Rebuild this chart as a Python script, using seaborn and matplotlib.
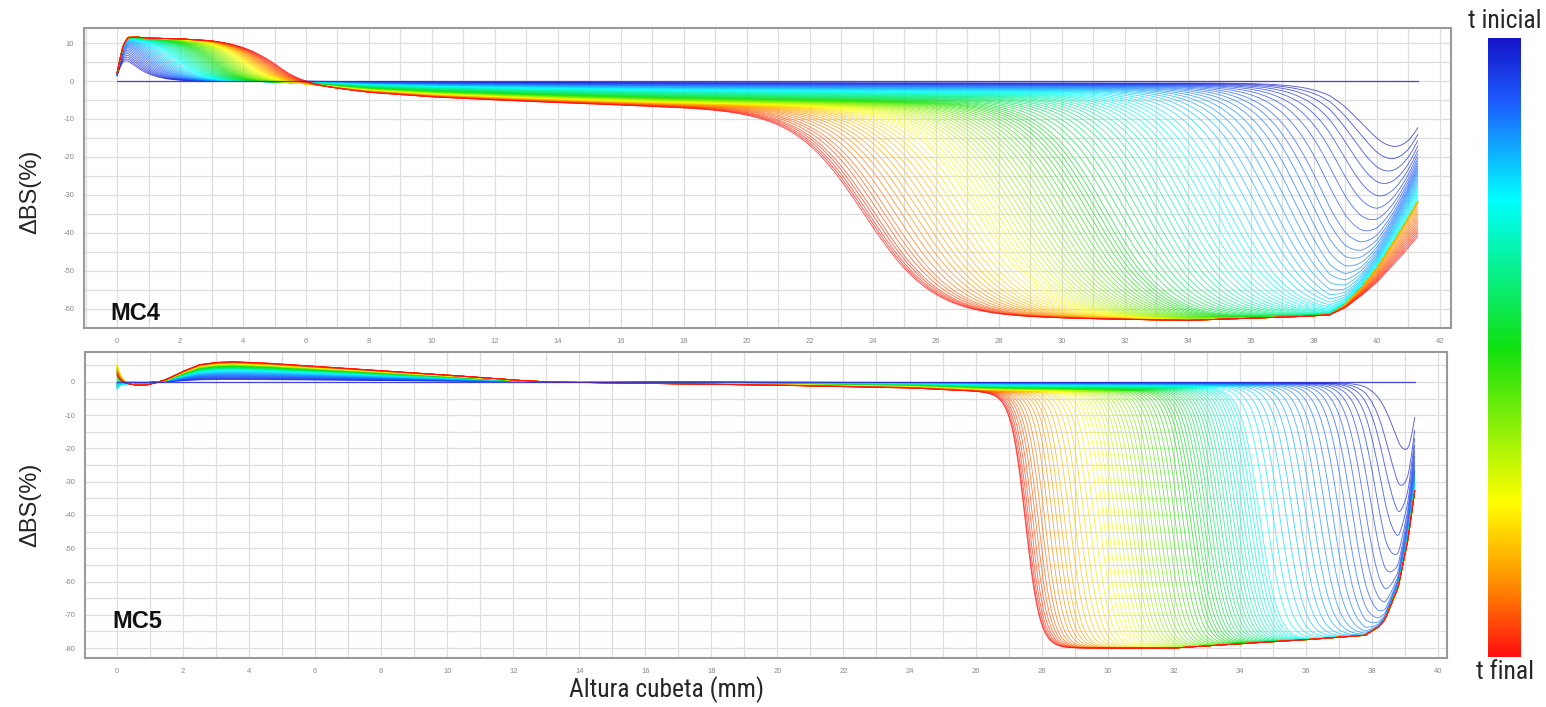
import numpy as np
import pandas as pd
import matplotlib
matplotlib.use("Agg")
import matplotlib.pyplot as plt
import seaborn as sns
from matplotlib.colors import LinearSegmentedColormap
from matplotlib.ticker import MultipleLocator, FuncFormatter
from matplotlib import font_manager

# ------------------------------------------------------------------ data
# colour scale: t inicial (0) -> t final (1)
cbar_pos = [0.0, 0.10, 0.26, 0.50, 0.75, 0.87, 1.0]
cbar_col = ["#1414c8", "#1e5aff", "#00ffff", "#10e010", "#ffff00", "#ff9a00", "#ff1010"]

# time keyframes used by the per-curve parameters below
key_t = [0.0, 0.10, 0.26, 0.50, 0.75, 1.0]

# ---- MC4: clarification-front position (mm) of each scan, t inicial -> t final
mc4_fronts = [40.8, 40.5, 40.2, 39.9, 39.6, 39.3, 39.0, 38.7, 38.4,
              38.15, 37.9, 37.65, 37.4, 37.15, 36.9, 36.65, 36.4, 36.15, 35.9, 35.65, 35.4, 35.2, 35.0,
              34.8, 34.6, 34.4, 34.2, 34.0, 33.8, 33.6, 33.4, 33.2, 33.0, 32.8, 32.6, 32.4, 32.2, 32.0,
              31.8, 31.6, 31.4, 31.25, 31.1, 30.95,
              30.8, 30.64, 30.48, 30.32, 30.16, 30.0, 29.84, 29.68, 29.52, 29.36, 29.2, 29.04, 28.88,
              28.72, 28.56, 28.4, 28.24, 28.08, 27.92, 27.76, 27.6, 27.45,
              27.3, 27.1, 26.9, 26.7, 26.5, 26.3, 26.1, 25.9, 25.7, 25.5, 25.3, 25.1, 24.9, 24.7, 24.5,
              24.35, 24.2, 24.05, 23.95, 23.85, 23.77, 23.7]
mc4_width = [0.8, 0.85, 0.95, 1.0, 1.05, 1.1]          # front width (mm)
mc4_edge = [0.2, 0.9, 1.9, 3.0, 4.1, 5.05]              # sediment-peak edge (mm)
mc4_basescale = [0.05, 0.15, 0.35, 0.66, 0.85, 1.0]
mc4_end_t = [0.0, 0.15, 0.30, 0.85, 1.0]
mc4_endfrac = [0.30, 0.40, 0.52, 0.52, 0.67]
# final-scan profiles
mc4_peak_x = [0, 0.1, 0.2, 0.35, 0.6, 1.0, 2.0, 3.0, 3.5, 4.0, 4.5, 6.0, 8.0]
mc4_peak_y = [2.0, 6.0, 9.5, 11.5, 11.6, 11.4, 11.3, 11.0, 10.6, 10.1, 9.7, 9.5, 9.5]
mc4_base_x = [0, 5, 6, 8, 10, 12, 14, 17, 20, 25, 41.3]
mc4_base_y = [0, -0.5, -1.0, -3.0, -4.2, -5.0, -5.7, -6.6, -7.2, -8.0, -9.0]
mc4_floor_x = [20, 25, 30, 34, 37.5, 38.6, 39.5, 41.3]
mc4_floor_y = [-61, -62, -62.5, -63, -62, -61.5, -61, -61]
mc4_rise_x = [38.5, 39.0, 39.5, 40.0, 40.5, 41.0, 41.3]
mc4_rise_y = [0, 0.08, 0.22, 0.40, 0.62, 0.85, 1.0]
mc4_len = 41.3

# ---- MC5
mc5_fronts = [39.1, 38.8, 38.6, 38.4, 38.2, 38.0, 37.8, 37.6, 37.4, 37.2, 37.0, 36.8, 36.6, 36.4,
              36.2, 36.0, 35.8, 35.6, 35.4, 35.2, 35.0, 34.8, 34.6,
              34.5, 34.4, 34.3, 34.2, 34.1, 34.0, 33.9, 33.8, 33.7, 33.6, 33.5, 33.4, 33.3, 33.2, 33.1,
              33.0, 32.9, 32.8, 32.7, 32.6, 32.5,
              32.4, 32.28, 32.16, 32.04, 31.92, 31.8, 31.68, 31.56, 31.44, 31.32, 31.2, 31.08, 30.96,
              30.84, 30.72, 30.6, 30.48, 30.36, 30.24, 30.12, 30.0, 29.88,
              29.75, 29.6, 29.45, 29.3, 29.15, 29.0, 28.85, 28.7, 28.58, 28.46, 28.34, 28.22, 28.1,
              28.0, 27.9, 27.82, 27.74, 27.67, 27.61, 27.56, 27.52, 27.5]
mc5_width = [0.32, 0.3, 0.28, 0.26, 0.24, 0.22]
mc5_bumpscale = [0.1, 0.3, 0.6, 0.8, 0.92, 1.0]
mc5_basescale = [0.05, 0.15, 0.35, 0.66, 0.85, 1.0]
mc5_spike_t = [0.0, 0.10, 0.26, 0.50, 0.75, 0.87, 1.0]
mc5_spike = [0.0, -1.0, -2.5, 2.0, 5.0, 3.0, 1.5]
mc5_end_t = [0.0, 0.10, 0.26, 1.0]
mc5_endfrac = [0.2, 0.35, 0.435, 0.435]
mc5_peak_x = [0, 0.15, 0.3, 0.6, 0.9, 1.2, 1.5, 2.0, 2.5, 3.0, 3.5, 4.5, 6.0, 8.0, 10.0, 12.0, 13.0, 40]
mc5_peak_y = [0.5, -0.2, -0.6, -1.0, -0.9, -0.2, 0.8, 3.2, 5.2, 5.9, 6.1, 5.7, 4.7, 3.4, 2.1, 0.6, 0.0, 0.0]
mc5_base_x = [0, 13, 15, 20, 24, 26.5, 30, 39.3]
mc5_base_y = [0, 0, -0.3, -1.0, -1.8, -3.0, -3.5, -4.0]
mc5_floor_x = [26, 28, 32, 34.3, 36, 38, 39.3]
mc5_floor_y = [-79, -80, -80, -78.5, -77.5, -76, -75]
mc5_rise_x = [37.8, 38.2, 38.4, 38.8, 39.1, 39.3]
mc5_rise_y = [0, 0.05, 0.10, 0.32, 0.66, 1.0]
mc5_len = 39.3

# axis ticks
mc4_yticks = [10, 0, -10, -20, -30, -40, -50, -60]
mc5_yticks = [0, -10, -20, -30, -40, -50, -60, -70, -80]


# ------------------------------------------------------------------ build curves
def logistic(z):
    return 1.0 / (1.0 + np.exp(-z))


def build_mc4():
    x = np.linspace(0, mc4_len, 900)
    rows = [pd.DataFrame({"x": x, "y": np.zeros_like(x), "curve": 0})]
    n = len(mc4_fronts)
    for i, f in enumerate(mc4_fronts):
        t = (i + 1) / n
        base = np.interp(t, key_t, mc4_basescale) * np.interp(x, mc4_base_x, mc4_base_y)
        e = np.interp(t, key_t, mc4_edge)
        bump = np.interp(x, mc4_peak_x, mc4_peak_y) * logistic((e - x) / 0.45)
        floor = np.interp(x, mc4_floor_x, mc4_floor_y)
        w = np.interp(t, key_t, mc4_width)
        s = logistic((x - f) / w)
        ysig = base + bump + (floor - base) * s
        E = np.interp(t, mc4_end_t, mc4_endfrac) * ysig[-1]
        R = np.interp(x, mc4_rise_x, mc4_rise_y)
        y = ysig * (1 - R) + R * E
        rows.append(pd.DataFrame({"x": x, "y": y, "curve": i + 1}))
    return pd.concat(rows, ignore_index=True), n


def build_mc5():
    x = np.linspace(0, mc5_len, 900)
    rows = [pd.DataFrame({"x": x, "y": np.zeros_like(x), "curve": 0})]
    n = len(mc5_fronts)
    for i, f in enumerate(mc5_fronts):
        t = (i + 1) / n
        base = np.interp(t, key_t, mc5_basescale) * np.interp(x, mc5_base_x, mc5_base_y)
        bump = np.interp(t, key_t, mc5_bumpscale) * np.interp(x, mc5_peak_x, mc5_peak_y)
        bump = bump + np.interp(t, mc5_spike_t, mc5_spike) * np.exp(-x / 0.12)
        floor = np.interp(x, mc5_floor_x, mc5_floor_y)
        w = np.interp(t, key_t, mc5_width)
        s = logistic((x - f) / w)
        ysig = base + bump + (floor - base) * s
        E = np.interp(t, mc5_end_t, mc5_endfrac) * ysig[-1]
        R = np.interp(x, mc5_rise_x, mc5_rise_y)
        y = ysig * (1 - R) + R * E
        rows.append(pd.DataFrame({"x": x, "y": y, "curve": i + 1}))
    return pd.concat(rows, ignore_index=True), n


cmap = LinearSegmentedColormap.from_list("tscale", list(zip(cbar_pos, cbar_col)))

sns.set_style("white")
plt.rcParams["font.family"] = ["Liberation Sans", "DejaVu Sans"]

# pick a condensed face if one is installed
names = {f.name for f in font_manager.fontManager.ttflist}
narrow = [nm for nm in ["Liberation Sans Narrow", "Roboto Condensed", "Open Sans Condensed",
                        "DejaVu Sans Condensed"] if nm in names]
condensed_ok = len(narrow) > 0
narrow = narrow + ["Liberation Sans"]
nsize = 18.5 if condensed_ok else 17

fig = plt.figure(figsize=(15.46, 7.07), dpi=100)
ax4 = fig.add_axes([0.0543, 0.5361, 0.8842, 0.4243])
ax5 = fig.add_axes([0.055, 0.0693, 0.881, 0.4328])
cax = fig.add_axes([0.9625, 0.0707, 0.0213, 0.8755])


def draw(ax, df, n, xlim, ylim, yticks, xmax_lab):
    pal = {k: cmap(k / n) for k in range(n + 1)}
    order = list(range(1, n + 1))
    sns.lineplot(data=df[df.curve > 0], x="x", y="y", hue="curve", hue_order=order,
                 palette=pal, estimator=None, sort=False, legend=False,
                 lw=0.65, alpha=0.72, ax=ax, zorder=3)
    ref = df[df.curve == 0]
    sns.lineplot(data=ref, x="x", y="y", color="#2a2ad0", lw=0.9, alpha=0.85, estimator=None,
                 sort=False, ax=ax, zorder=4)
    ax.set_xlim(*xlim)
    ax.set_ylim(*ylim)
    ax.set_xlabel("")
    ax.set_ylabel("")
    ax.xaxis.set_major_locator(MultipleLocator(1))
    ax.xaxis.set_minor_locator(MultipleLocator(0.5))
    ax.xaxis.set_major_formatter(FuncFormatter(
        lambda v, p: (f"{int(round(v))}" if (round(v) % 2 == 0 and 0 <= v <= xmax_lab) else "")))
    ax.yaxis.set_major_locator(MultipleLocator(5))
    ax.yaxis.set_major_formatter(FuncFormatter(
        lambda v, p: (f"{int(round(v))}" if int(round(v)) in yticks else "")))
    ax.grid(True, which="major", color="#dedede", lw=0.9, zorder=0)
    ax.set_axisbelow(True)
    ax.tick_params(axis="both", which="both", direction="out", length=3, width=0.7,
                   color="#9a9a9a", labelsize=5.5, labelcolor="#8a8a8a", pad=4)
    ax.tick_params(axis="x", which="minor", length=2)
    for sp in ax.spines.values():
        sp.set_visible(True)
        sp.set_color("#9a9a9a")
        sp.set_linewidth(1.5)


df4, n4 = build_mc4()
df5, n5 = build_mc5()
draw(ax4, df4, n4, (-1.05, 42.35), (-65, 13.95), mc4_yticks, 42)
draw(ax5, df5, n5, (-0.97, 40.28), (-83, 9.0), mc5_yticks, 40)

ax4.text(0.019, 0.027, "MC4", transform=ax4.transAxes, fontsize=17, fontweight="bold",
         ha="left", va="baseline", color="#111111", zorder=6)
ax5.text(0.02, 0.098, "MC5", transform=ax5.transAxes, fontsize=17, fontweight="bold",
         ha="left", va="baseline", color="#111111", zorder=6)

# colour bar (t inicial at top, t final at bottom)
grad = np.linspace(0, 1, 256).reshape(-1, 1)
cax.imshow(grad, aspect="auto", cmap=cmap, origin="upper", extent=(0, 1, 1, 0))
cax.set_xticks([])
cax.set_yticks([])
for sp in cax.spines.values():
    sp.set_visible(False)

fig.text(0.9735, 0.971, "t inicial", ha="center", va="center", fontsize=nsize, family=narrow)
fig.text(0.9735, 0.050, "t final", ha="center", va="center", fontsize=nsize, family=narrow)
fig.text(0.4314, 0.024, "Altura cubeta (mm)", ha="center", va="center", fontsize=nsize - 0.1,
         family=narrow)
fig.text(0.0194, 0.7284, "ΔBS(%)", ha="center", va="center", rotation=90, fontsize=17)
fig.text(0.0194, 0.2857, "ΔBS(%)", ha="center", va="center", rotation=90, fontsize=17)

fig.savefig("out.png", dpi=100, facecolor="white")
